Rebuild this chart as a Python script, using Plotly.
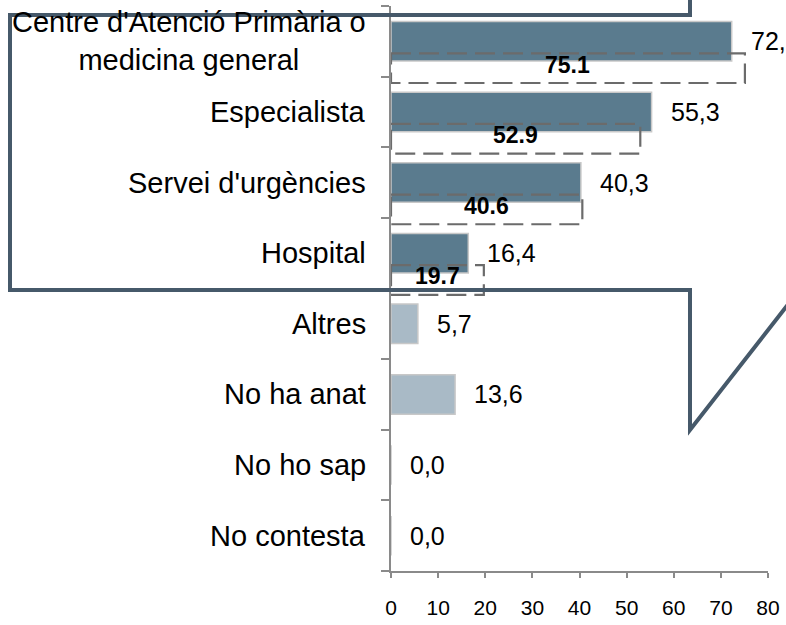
import plotly.graph_objects as go

categories = [
    "Centre d'Atenció Primària o<br>medicina general",
    "Especialista",
    "Servei d'urgències",
    "Hospital",
    "Altres",
    "No ha anat",
    "No ho sap",
    "No contesta",
]
values = [72.3, 55.3, 40.3, 16.4, 5.7, 13.6, 0.0, 0.0]
previous_values = [75.1, 52.9, 40.6, 19.7]
x_ticks = [0, 10, 20, 30, 40, 50, 60, 70, 80]

DARK = "#5a7b8e"
LIGHT = "#a9bac6"
bar_colors = [DARK] * 4 + [LIGHT] * 4

W_FIG, H_FIG = 786, 625
L, R, T, B = 391, 18, 6, 46
PW = W_FIG - L - R
PH = H_FIG - T - B
FONT = "Arial, 'Liberation Sans', sans-serif"

idx = list(range(len(categories)))

fig = go.Figure()
fig.add_trace(go.Bar(
    x=values, y=idx, orientation="h", width=0.56,
    marker=dict(color=bar_colors, line=dict(color="#c8c8c8", width=1.5)),
    hoverinfo="skip", showlegend=False,
))

annotations = []
# category labels
for i, c in enumerate(categories):
    annotations.append(dict(
        x=0, xref="paper", y=i, yref="y", text=c, showarrow=False,
        xanchor="right", yanchor="middle", align="center", xshift=-23,
        font=dict(family=FONT, size=29, color="black"),
    ))
# value labels
for i, v in enumerate(values):
    annotations.append(dict(
        x=v, xref="x", y=i, yref="y", text=f"{v:.1f}".replace(".", ","),
        showarrow=False, xanchor="left", yanchor="middle", xshift=17,
        font=dict(family=FONT, size=25, color="black"),
    ))

shapes = []
OFF, HALF = 0.38, 0.21
for i, pv in enumerate(previous_values):
    shapes.append(dict(
        type="rect", xref="x", yref="y", x0=0, x1=pv,
        y0=i + OFF - HALF, y1=i + OFF + HALF,
        line=dict(color="#6b6b6b", width=2.2, dash="20px,8px"),
        fillcolor="rgba(0,0,0,0)", layer="above",
    ))
    annotations.append(dict(
        x=pv / 2, xref="x", y=i + OFF - 0.05, yref="y", text=f"<b>{pv}</b>",
        showarrow=False, xanchor="center", yanchor="middle",
        font=dict(family=FONT, size=23, color="black"),
    ))


def P(px, py):
    return ((px - L) / PW, (H_FIG - B - py) / PH)


pts = [(690, -10), (690, 15), (10, 15), (10, 294), (690, 294), (690, 436), (810, 280)]
path = ""
for k, (px, py) in enumerate(pts):
    xx, yy = P(px, py)
    path += ("M" if k == 0 else "L") + f"{xx:.5f},{yy:.5f} "
shapes.append(dict(
    type="path", xref="paper", yref="paper", path=path.strip(),
    line=dict(color="#46596a", width=4), fillcolor="rgba(0,0,0,0)", layer="above",
))

fig.update_layout(
    width=W_FIG, height=H_FIG,
    margin=dict(l=L, r=R, t=T, b=B, pad=0),
    paper_bgcolor="white", plot_bgcolor="white",
    font=dict(family=FONT, color="black"),
    showlegend=False,
    annotations=annotations, shapes=shapes,
    xaxis=dict(
        range=[0, 80], tickvals=x_ticks, ticktext=[str(t) for t in x_ticks],
        ticks="outside", ticklen=5, tickcolor="#8a8a8a", tickwidth=1.5,
        showline=True, linecolor="#8a8a8a", linewidth=1.5,
        showgrid=False, zeroline=False,
        tickfont=dict(family=FONT, size=21, color="black"),
        ticklabelstandoff=12,
    ),
    yaxis=dict(
        range=[len(categories) - 0.5, -0.5],
        tickvals=[i - 0.5 for i in range(len(categories) + 1)],
        showticklabels=False,
        ticks="outside", ticklen=8, tickcolor="#8a8a8a", tickwidth=1.5,
        showline=True, linecolor="#8a8a8a", linewidth=1.5,
        showgrid=False, zeroline=False,
    ),
)

fig.write_html(
    "out.html",
    config={"displayModeBar": False},
    post_script="document.body.style.margin='0';document.body.style.overflow='hidden';",
)
